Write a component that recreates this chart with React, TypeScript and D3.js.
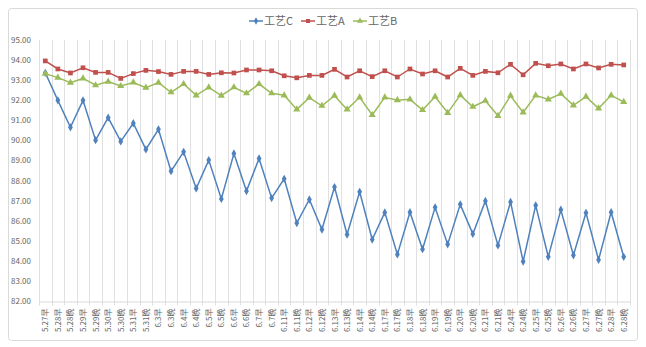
import React from 'react';
import * as d3 from 'd3';

const categories = [
  '5.27早', '5.28早', '5.28晚', '5.29早', '5.29晚', '5.30早', '5.30晚', '5.31早', '5.31晚',
  '6.3早', '6.3晚', '6.4早', '6.4晚', '6.5早', '6.5晚', '6.6早', '6.6晚', '6.7早', '6.7晚',
  '6.11早', '6.11晚', '6.12早', '6.12晚', '6.13早', '6.13晚', '6.14早', '6.14晚',
  '6.17早', '6.17晚', '6.18早', '6.18晚', '6.19早', '6.19晚', '6.20早', '6.20晚',
  '6.21早', '6.21晚', '6.24早', '6.24晚', '6.25早', '6.25晚', '6.26早', '6.26晚',
  '6.27早', '6.27晚', '6.28早', '6.28晚',
];

const seriesC = [
  93.37, 92.0, 90.66, 92.0, 90.02, 91.14, 89.96, 90.86, 89.56, 90.56,
  88.48, 89.44, 87.62, 89.03, 87.1, 89.36, 87.49, 89.11, 87.14, 88.1,
  85.9, 87.07, 85.58, 87.69, 85.33, 87.45, 85.08, 86.43, 84.34, 86.44,
  84.6, 86.68, 84.84, 86.83, 85.36, 87.0, 84.79, 86.95, 83.99, 86.78,
  84.22, 86.56, 84.3, 86.41, 84.07, 86.44, 84.22,
];

const seriesA = [
  93.96, 93.56, 93.36, 93.62, 93.39, 93.39, 93.09, 93.33, 93.49, 93.43,
  93.29, 93.44, 93.44, 93.29, 93.37, 93.36, 93.51, 93.51, 93.47, 93.22,
  93.12, 93.24, 93.24, 93.54, 93.16, 93.47, 93.18, 93.47, 93.16, 93.56,
  93.31, 93.47, 93.16, 93.59, 93.24, 93.44, 93.37, 93.79, 93.27, 93.84,
  93.72, 93.81, 93.56, 93.81, 93.61, 93.79, 93.76,
];

const seriesB = [
  93.33, 93.13, 92.88, 93.09, 92.75, 92.93, 92.71, 92.89, 92.63, 92.88,
  92.4, 92.81, 92.25, 92.64, 92.23, 92.65, 92.35, 92.81, 92.35, 92.25,
  91.55, 92.13, 91.73, 92.23, 91.55, 92.15, 91.27, 92.15, 92.01, 92.05,
  91.52, 92.18, 91.38, 92.26, 91.68, 91.98, 91.23, 92.23, 91.4, 92.25,
  92.05, 92.33, 91.75, 92.18, 91.6, 92.25, 91.92,
];

const seriesNames = ['工艺C', '工艺A', '工艺B'];
const yTicks = [82, 83, 84, 85, 86, 87, 88, 89, 90, 91, 92, 93, 94, 95];

const colors = ['#4f81bd', '#c0504d', '#9bbb59'];
const symbols = [d3.symbolDiamond, d3.symbolSquare, d3.symbolTriangle];
const symSizes = [20, 22, 22];

const FONT = '"Noto Sans CJK SC", "Noto Sans", sans-serif';

export default function App() {
  const W = 646;
  const H = 347;
  const left = 39;
  const right = 630;
  const top = 40;
  const bottom = 301.5;

  const x = d3.scaleBand<string>().domain(categories).range([left, right]);
  const y = d3.scaleLinear().domain([82, 95]).range([bottom, top]);
  const cx = (c: string) => (x(c) as number) + x.bandwidth() / 2;

  const all = [seriesC, seriesA, seriesB];
  const line = d3
    .line<number>()
    .x((_, i) => cx(categories[i]))
    .y((d) => y(d));

  const gridXs = categories.map((c) => x(c) as number).concat([right]);

  const legendXs = [249, 301, 353];

  return (
    <svg
      width={W}
      height={H}
      style={{ position: 'absolute', left: 0, top: 0, background: '#fff' }}
      fontFamily={FONT}
    >
      <rect x={8.5} y={8.5} width={629} height={332} rx={3} fill="#fff" stroke="#d9d9d9" />
      {gridXs.map((gx, i) => (
        <line
          key={'g' + i}
          x1={Math.round(gx) + 0.5}
          x2={Math.round(gx) + 0.5}
          y1={top}
          y2={bottom + 4}
          stroke="#e0e0e0"
          strokeWidth={1}
        />
      ))}
      <line x1={left} x2={right} y1={bottom + 0.5} y2={bottom + 0.5} stroke="#d9d9d9" />
      {yTicks.map((t) => (
        <text
          key={'y' + t}
          x={31}
          y={y(t)}
          dy="0.35em"
          textAnchor="end"
          fontSize={8}
          fill="#666666"
        >
          {t.toFixed(2)}
        </text>
      ))}
      {categories.map((c) => (
        <text
          key={'x' + c}
          transform={`translate(${cx(c) + 3},${bottom + 7}) rotate(-90)`}
          textAnchor="end"
          fontSize={8}
          fill="#666666"
        >
          {c}
        </text>
      ))}
      {all.map((s, si) => (
        <g key={'s' + si}>
          <path d={line(s) || ''} fill="none" stroke={colors[si]} strokeWidth={1.5} />
          {s.map((v, i) => (
            <path
              key={i}
              transform={`translate(${cx(categories[i])},${y(v)})`}
              d={d3.symbol().type(symbols[si]).size(symSizes[si])() || ''}
              fill={colors[si]}
            />
          ))}
        </g>
      ))}
      {seriesNames.map((n, i) => (
        <g key={'l' + i} transform={`translate(${legendXs[i]},21)`}>
          <line x1={0} x2={14} y1={0} y2={0} stroke={colors[i]} strokeWidth={1.5} />
          <path
            transform="translate(7,0)"
            d={d3.symbol().type(symbols[i]).size(16)() || ''}
            fill={colors[i]}
          />
          <text x={15} y={0} dy="0.35em" fontSize={11} fill="#666666">
            {n}
          </text>
        </g>
      ))}
    </svg>
  );
}
